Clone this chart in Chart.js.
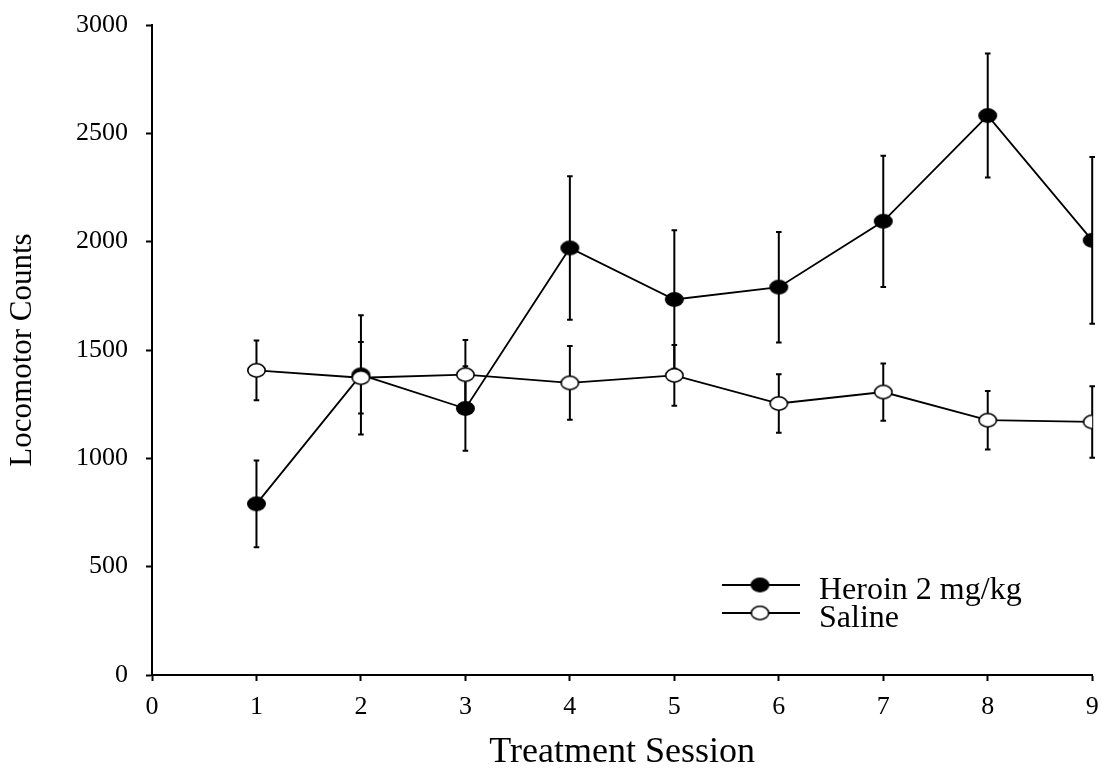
<!DOCTYPE html>
<html>
<head>
<meta charset="utf-8">
<script src="https://cdn.jsdelivr.net/npm/chart.js@4/dist/chart.umd.min.js"></script>
<style>
  html, body { margin: 0; padding: 0; background: #fff; }
  #wrap { width: 1102px; height: 773px; }
</style>
</head>
<body>
<div id="wrap"><canvas id="c" width="1102" height="773"></canvas></div>
<script>
const sessions = [1, 2, 3, 4, 5, 6, 7, 8, 9];
const heroinMean = [790, 1385, 1230, 1971, 1733, 1790, 2094, 2582, 2006];
const heroinSem  = [200, 275, 195, 331, 320, 255, 303, 286, 385];
const salineMean = [1406, 1372, 1386, 1348, 1383, 1253, 1306, 1176, 1168];
const salineSem  = [138, 165, 160, 170, 140, 135, 132, 135, 165];
const seriesNames = ['Heroin 2 mg/kg', 'Saline'];
const xTitle = 'Treatment Session';
const yTitle = 'Locomotor Counts';

const FONT = '"Liberation Serif", "Times New Roman", Times, serif';

function ellipseMarker(fill) {
  const w = 21, h = 17;
  const c = document.createElement('canvas');
  c.width = w; c.height = h;
  const g = c.getContext('2d');
  g.beginPath();
  g.ellipse(w / 2, h / 2, 8.7, 6.7, 0, 0, Math.PI * 2);
  g.fillStyle = fill;
  g.fill();
  g.lineWidth = 1.6;
  g.strokeStyle = '#000';
  g.stroke();
  return c;
}
const filledMarker = ellipseMarker('#000');
const openMarker = ellipseMarker('#fff');

const errorBars = {
  id: 'errorBars',
  beforeDatasetsDraw(chart) {
    const ctx = chart.ctx;
    const xs = chart.scales.x, ys = chart.scales.y;
    const sets = [[heroinMean, heroinSem], [salineMean, salineSem]];
    ctx.save();
    ctx.strokeStyle = '#000';
    ctx.lineWidth = 2;
    sets.forEach(([m, e]) => {
      m.forEach((v, i) => {
        const x = xs.getPixelForValue(sessions[i]);
        const yt = ys.getPixelForValue(v + e[i]);
        const yb = ys.getPixelForValue(v - e[i]);
        ctx.beginPath();
        ctx.moveTo(x, yt); ctx.lineTo(x, yb);
        ctx.moveTo(x - 2.8, yt); ctx.lineTo(x + 2.8, yt);
        ctx.moveTo(x - 2.8, yb); ctx.lineTo(x + 2.8, yb);
        ctx.stroke();
      });
    });
    ctx.restore();
  }
};

const legendPlugin = {
  id: 'customLegend',
  afterDraw(chart) {
    const ctx = chart.ctx;
    const rows = [
      { y: 585, marker: filledMarker, text: seriesNames[0] },
      { y: 613, marker: openMarker, text: seriesNames[1] }
    ];
    ctx.save();
    rows.forEach(r => {
      ctx.strokeStyle = '#000';
      ctx.lineWidth = 1.8;
      ctx.beginPath();
      ctx.moveTo(722, r.y); ctx.lineTo(800, r.y);
      ctx.stroke();
      ctx.drawImage(r.marker, 760 - r.marker.width / 2, r.y - r.marker.height / 2);
      ctx.fillStyle = '#000';
      ctx.font = '32px ' + FONT;
      ctx.textBaseline = 'alphabetic';
      ctx.textAlign = 'left';
      ctx.fillText(r.text, 819, r.y + 14);
    });
    ctx.restore();
  }
};

const toXY = (arr) => arr.map((v, i) => ({ x: sessions[i], y: v }));

new Chart(document.getElementById('c'), {
  type: 'line',
  data: {
    datasets: [
      {
        label: seriesNames[0],
        data: toXY(heroinMean),
        borderColor: '#000',
        borderWidth: 1.8,
        pointStyle: filledMarker,
        pointRadius: 8,
        fill: false,
        tension: 0,
        order: 1
      },
      {
        label: seriesNames[1],
        data: toXY(salineMean),
        borderColor: '#000',
        borderWidth: 1.8,
        pointStyle: openMarker,
        pointRadius: 8,
        fill: false,
        tension: 0,
        order: 0
      }
    ]
  },
  options: {
    responsive: false,
    animation: false,
    devicePixelRatio: 1,
    layout: { padding: { left: 0, right: 8, top: 25, bottom: 0 } },
    plugins: { legend: { display: false }, tooltip: { enabled: false } },
    scales: {
      x: {
        type: 'linear',
        min: 0, max: 9,
        ticks: { stepSize: 1, color: '#000', font: { family: FONT, size: 26 }, padding: 11, maxRotation: 0,
                 callback: (v) => String(v) },
        grid: { display: true, drawOnChartArea: false, drawTicks: true, tickLength: 6, tickColor: '#000', tickWidth: 2 },
        border: { display: true, color: '#000', width: 2 },
        title: { display: true, text: xTitle, color: '#000', font: { family: FONT, size: 36, lineHeight: 1 }, padding: { top: 0, bottom: 2 } },
        afterFit(s) { s.height = 98; s.paddingRight = 0; s.paddingLeft = 0; }
      },
      y: {
        type: 'linear',
        min: 0, max: 3000,
        ticks: { stepSize: 500, color: '#000', font: { family: FONT, size: 26 }, padding: 18,
                 callback: (v) => String(v) },
        grid: { display: true, drawOnChartArea: false, drawTicks: true, tickLength: 6, tickColor: '#000', tickWidth: 2 },
        border: { display: true, color: '#000', width: 2 },
        title: { display: true, text: yTitle, color: '#000', font: { family: FONT, size: 31, lineHeight: 1 }, padding: { top: 7, bottom: 0 } },
        afterFit(s) { s.width = 152; s.paddingTop = 0; s.paddingBottom = 0; }
      }
    }
  },
  plugins: [errorBars, legendPlugin]
});
</script>
</body>
</html>
